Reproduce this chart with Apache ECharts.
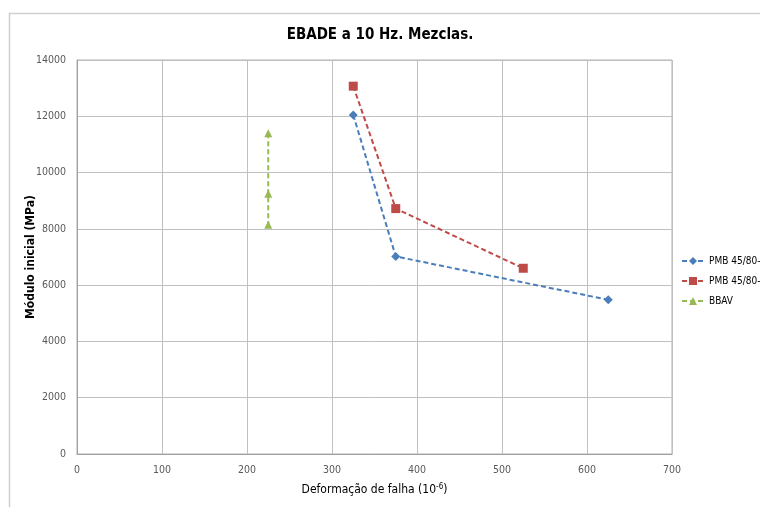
<!DOCTYPE html>
<html><head><meta charset="utf-8">
<script src="https://cdn.jsdelivr.net/npm/echarts@6/dist/echarts.min.js"></script>
<style>html,body{margin:0;padding:0;background:#fff}#c{width:760px;height:507px}</style>
</head><body><div id="c"></div>
<script>
const seriesNames = ['PMB 45/80-70', 'PMB 45/80-65', 'BBAV'];
const pmb70X = [325, 375, 625];
const pmb70Y = [12050, 7020, 5480];
const pmb65X = [325, 375, 525];
const pmb65Y = [13070, 8720, 6600];
const bbavX = [225, 225, 225];
const bbavY = [11400, 9250, 8150];
const xTicks = [0, 100, 200, 300, 400, 500, 600, 700];
const yTicks = [0, 2000, 4000, 6000, 8000, 10000, 12000, 14000];

const FONT = '"DejaVu Sans Condensed", Lato, sans-serif';
const zip = (xs, ys) => xs.map((x, i) => [x, ys[i]]);
const colors = ['#4a7ebb', '#be4b48', '#98b954'];
const symbols = ['diamond', 'rect', 'triangle'];
const sizes = [9, 9, 8];
const datas = [zip(pmb70X, pmb70Y), zip(pmb65X, pmb65Y), zip(bbavX, bbavY)];

const chart = echarts.init(document.getElementById('c'), null, {renderer: 'canvas'});
chart.setOption({
  animation: false,
  backgroundColor: '#fff',
  textStyle: {fontFamily: FONT},
  graphic: [{
    type: 'rect', shape: {x: 9.5, y: 13.5, width: 800, height: 520},
    style: {fill: 'none', stroke: '#d0d0d0', lineWidth: 1.5}, silent: true, z: -1
  }],
  title: {
    text: 'EBADE a 10 Hz. Mezclas.', left: 'center', top: 23,
    textStyle: {fontFamily: FONT, fontSize: 15, fontWeight: 'bold', color: '#000'}
  },
  legend: {
    orient: 'vertical', left: 676, top: 251, itemGap: 10, itemWidth: 22, itemHeight: 10,
    textStyle: {fontFamily: FONT, fontSize: 10, color: '#000'},
    data: seriesNames
  },
  grid: {left: 77, top: 60, right: 88, bottom: 53, show: true, borderColor: '#b0b0b0', borderWidth: 1},
  xAxis: {
    type: 'value', min: xTicks[0], max: xTicks[xTicks.length - 1], interval: 100,
    name: 'Deformação de falha (10{s|-6})', nameLocation: 'middle', nameGap: 29,
    nameMoveOverlap: false,
    nameTextStyle: {fontFamily: FONT, fontSize: 12, color: '#000',
      rich: {s: {fontSize: 8, verticalAlign: 'top', padding: [0, 0, 6, 0], fontFamily: FONT}}},
    axisLine: {show: true, lineStyle: {color: '#a0a0a0'}},
    axisTick: {show: false},
    axisLabel: {fontFamily: FONT, fontSize: 10.5, color: '#595959', margin: 11},
    splitLine: {show: true, lineStyle: {color: '#c0c0c0'}}
  },
  yAxis: {
    type: 'value', min: yTicks[0], max: yTicks[yTicks.length - 1], interval: 2000,
    name: 'Módulo inicial (MPa)', nameLocation: 'middle', nameGap: 40,
    nameMoveOverlap: false,
    nameTextStyle: {fontFamily: FONT, fontSize: 12, fontWeight: 'bold', color: '#000'},
    axisLine: {show: true, lineStyle: {color: '#a0a0a0'}},
    axisTick: {show: false},
    axisLabel: {fontFamily: FONT, fontSize: 10.5, color: '#595959', margin: 11,
      formatter: v => String(v)},
    splitLine: {show: true, lineStyle: {color: '#c0c0c0'}}
  },
  series: seriesNames.map((n, i) => ({
    name: n, type: 'line', data: datas[i],
    symbol: symbols[i], symbolSize: sizes[i],
    itemStyle: {color: colors[i]},
    lineStyle: {color: colors[i], width: 2, type: [5, 3]}
  }))
});
</script></body></html>
